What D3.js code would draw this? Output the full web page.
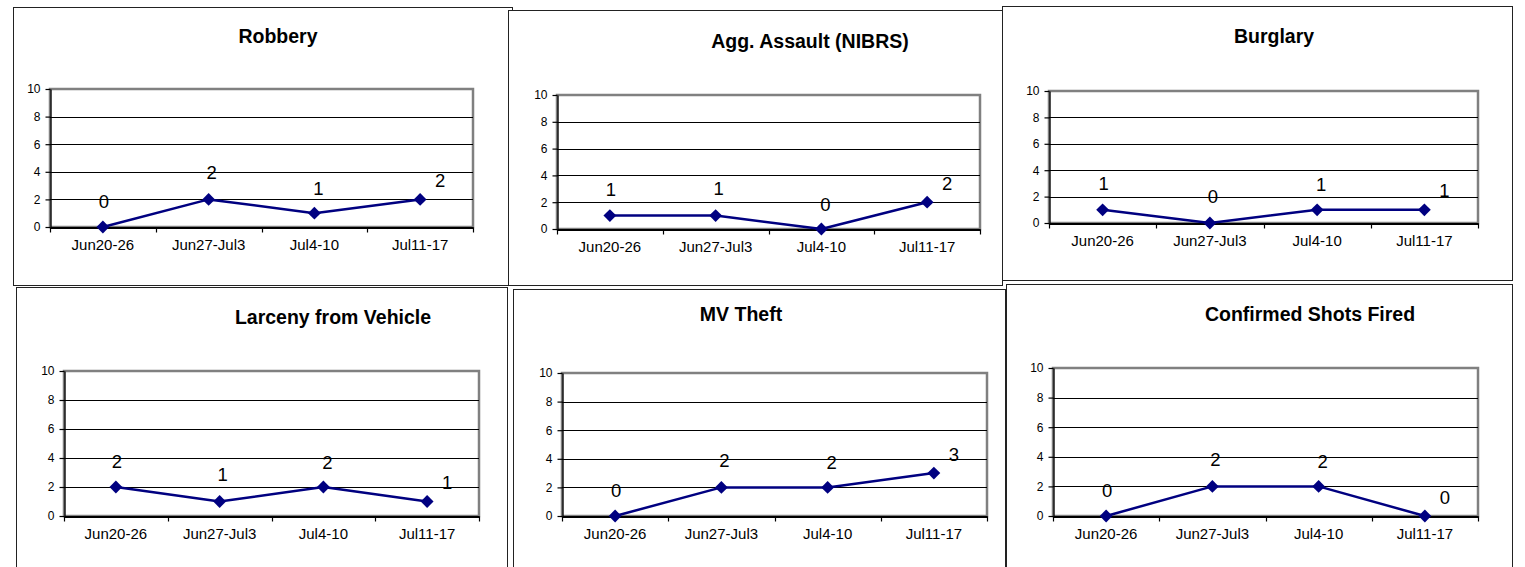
<!DOCTYPE html>
<html>
<head>
<meta charset="utf-8">
<script src="https://cdn.jsdelivr.net/npm/d3@7"></script>
<style>
  html, body { margin: 0; padding: 0; background: #fff; }
  svg { display: block; font-family: "Liberation Sans", Arial, sans-serif; }
</style>
</head>
<body>
<svg id="chart" width="1525" height="567"></svg>
<script>
// Weekly counts per offense type
const weeks = ["Jun20-26", "Jun27-Jul3", "Jul4-10", "Jul11-17"];
const titles = ["Robbery", "Agg. Assault (NIBRS)", "Burglary",
                "Larceny from Vehicle", "MV Theft", "Confirmed Shots Fired"];
const robbery = [0, 2, 1, 2];
const aggAssault = [1, 1, 0, 2];
const burglary = [1, 0, 1, 1];
const larcenyFromVehicle = [2, 1, 2, 1];
const mvTheft = [0, 2, 2, 3];
const shotsFired = [0, 2, 2, 0];
const yTicks = [0, 2, 4, 6, 8, 10];

const series = [robbery, aggAssault, burglary, larcenyFromVehicle, mvTheft, shotsFired];

// Panel geometry: outer frame, plot area, title centre
const layout = [
  { frame: [13, 7, 499, 278],   plot: [50, 89, 423, 138],   title: [278, 36] },
  { frame: [508, 10, 494, 275], plot: [557, 95, 423, 134],  title: [810, 41] },
  { frame: [1002, 6, 510, 274], plot: [1049, 91, 429, 132], title: [1274, 36] },
  { frame: [16, 287, 491, 300], plot: [64, 371, 415, 145],  title: [333, 317] },
  { frame: [513, 289, 492, 300],plot: [562, 373, 425, 143], title: [741, 314] },
  { frame: [1006, 284, 506, 300],plot: [1053, 368, 425, 148],title: [1310, 314] }
];

const lineColor = "#000080";
const svg = d3.select("#chart");

// Label nudges by point index (last label sits to the right of its marker)
const labelDx = [1, 3, 4, 20];
const labelDy = [-26, -27, -25, -19];

layout.forEach((L, i) => {
  const values = series[i];
  const [fx, fy, fw, fh] = L.frame;
  const [px, py, pw, ph] = L.plot;

  const g = svg.append("g");

  // outer frame
  g.append("rect")
    .attr("x", fx + 0.5).attr("y", fy + 0.5)
    .attr("width", fw).attr("height", fh)
    .attr("fill", "#fff").attr("stroke", "#222").attr("stroke-width", 1);

  // title
  g.append("text")
    .attr("x", L.title[0]).attr("y", L.title[1])
    .attr("text-anchor", "middle").attr("dominant-baseline", "central")
    .attr("font-weight", "bold").attr("font-size", 19.5)
    .attr("fill", "#000")
    .text(titles[i]);

  const x = d3.scaleBand().domain(weeks).range([px, px + pw]).padding(0);
  const y = d3.scaleLinear().domain([0, 10]).range([py + ph, py]);

  // plot area border (grey)
  g.append("rect")
    .attr("x", px).attr("y", py).attr("width", pw).attr("height", ph)
    .attr("fill", "#fff").attr("stroke", "#808080").attr("stroke-width", 2.5);

  // horizontal gridlines
  g.append("g").selectAll("line")
    .data(yTicks.filter(t => t > 0 && t < 10))
    .join("line")
    .attr("x1", px).attr("x2", px + pw)
    .attr("y1", d => Math.round(y(d)) + 0.5).attr("y2", d => Math.round(y(d)) + 0.5)
    .attr("stroke", "#000").attr("stroke-width", 1.2);

  // y axis
  const yAxis = g.append("g")
    .attr("transform", `translate(${px + 0.5},0)`)
    .call(d3.axisLeft(y).tickValues(yTicks).tickSize(5).tickPadding(5).tickSizeOuter(0));
  yAxis.select(".domain").attr("stroke", "#000").attr("stroke-width", 1.3);
  yAxis.selectAll(".tick line").attr("stroke", "#000").attr("stroke-width", 1.2);
  yAxis.selectAll(".tick text")
    .attr("font-size", 12).attr("fill", "#000")
    .attr("font-family", "Liberation Sans, Arial, sans-serif");

  // x axis: baseline, ticks between categories, labels centred
  const xAxis = g.append("g")
    .attr("transform", `translate(0,${py + ph + 0.5})`)
    .call(d3.axisBottom(x).tickSize(0).tickPadding(12));
  xAxis.select(".domain").attr("stroke", "#000").attr("stroke-width", 2);
  xAxis.selectAll(".tick text")
    .attr("font-size", 15).attr("fill", "#000")
    .attr("font-family", "Liberation Sans, Arial, sans-serif");
  const edges = weeks.map(w => x(w)).concat([px + pw]);
  xAxis.append("g").selectAll("line")
    .data(edges)
    .join("line")
    .attr("x1", d => Math.round(d) + 0.5).attr("x2", d => Math.round(d) + 0.5)
    .attr("y1", 0).attr("y2", 5)
    .attr("stroke", "#000").attr("stroke-width", 1.2);

  const cx = d => x(d) + x.bandwidth() / 2;
  const pts = weeks.map((w, k) => ({ w, v: values[k], k }));

  // series line
  g.append("path")
    .datum(pts)
    .attr("fill", "none")
    .attr("stroke", lineColor).attr("stroke-width", 2.5)
    .attr("stroke-linejoin", "round")
    .attr("d", d3.line().x(d => cx(d.w)).y(d => y(d.v)));

  // diamond markers
  const diamond = d3.symbol().type(d3.symbolDiamond2).size(105);
  g.append("g").selectAll("path")
    .data(pts)
    .join("path")
    .attr("transform", d => `translate(${cx(d.w)},${y(d.v)})`)
    .attr("d", diamond)
    .attr("fill", lineColor);

  // value labels
  g.append("g").selectAll("text")
    .data(pts)
    .join("text")
    .attr("x", d => cx(d.w) + labelDx[d.k])
    .attr("y", d => y(d.v) + labelDy[d.k])
    .attr("text-anchor", "middle").attr("dominant-baseline", "central")
    .attr("font-size", 18.5).attr("fill", "#000")
    .text(d => d.v);
});
</script>
</body>
</html>
